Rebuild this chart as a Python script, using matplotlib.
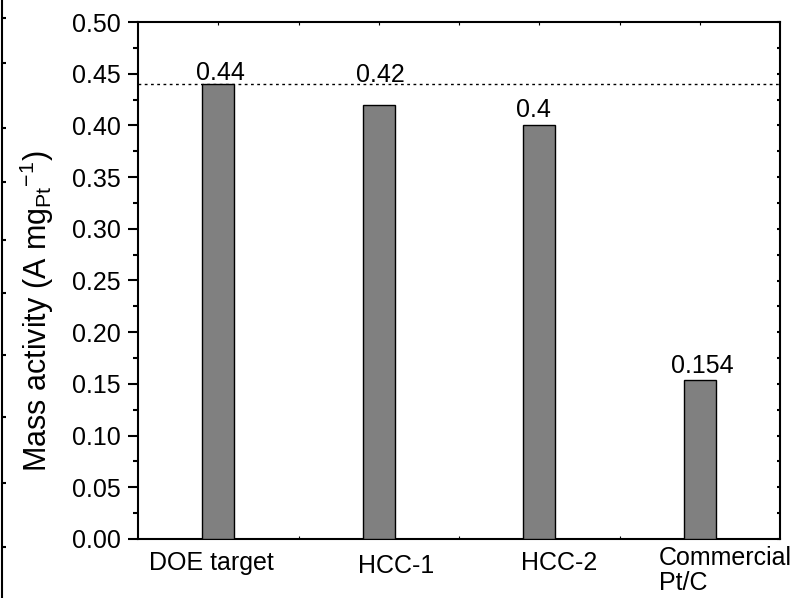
import matplotlib
matplotlib.use("Agg")
import matplotlib.pyplot as plt
from matplotlib.ticker import MultipleLocator, FixedLocator, FormatStrFormatter

plt.rcParams['font.family'] = ['Liberation Sans', 'DejaVu Sans']
plt.rcParams['mathtext.fontset'] = 'custom'
plt.rcParams['mathtext.rm'] = 'Liberation Sans'
plt.rcParams['mathtext.it'] = 'Liberation Sans'

categories = ["DOE target", "HCC-1", "HCC-2", "Commercial\nPt/C"]
values = [0.44, 0.42, 0.40, 0.154]
value_labels = ["0.44", "0.42", "0.4", "0.154"]
doe_target = 0.44

fig = plt.figure(figsize=(7.94, 5.98), dpi=100)
ax = fig.add_axes([138/794, 1 - 539/598, (780 - 138)/794, (539 - 22)/598])

x = [1, 2, 3, 4]
ax.bar(x, values, width=0.2, color='#808080', edgecolor='black', linewidth=1.0, zorder=3)
ax.axhline(doe_target, color='black', linestyle=(0, (2, 2.5)), linewidth=1.0, zorder=2)

# value labels (offsets in points, baseline anchored)
lab_dx = [1.5, 1.5, -4.3, 1.5]
lab_dy = [2.9, 16.5, 5.8, 5.0]
for xi, v, t, dx, dy in zip(x, values, value_labels, lab_dx, lab_dy):
    ax.annotate(t, (xi, v), xytext=(dx, dy), textcoords='offset points',
                ha='center', va='baseline', fontsize=18, zorder=4)

ax.set_xlim(0.5, 4.5)
ax.set_ylim(0, 0.5)
ax.yaxis.set_major_locator(MultipleLocator(0.05))
ax.yaxis.set_minor_locator(MultipleLocator(0.025))
ax.yaxis.set_major_formatter(FormatStrFormatter('%.2f'))
ax.tick_params(axis='y', which='major', direction='out', length=7, width=1.5, labelsize=18, pad=5.5)
ax.tick_params(axis='y', which='minor', direction='out', length=3.6, width=1.5)

# right-hand inward ticks
axr = ax.twinx()
axr.set_ylim(0, 0.5)
axr.yaxis.set_major_locator(MultipleLocator(0.025))
axr.yaxis.set_minor_locator(matplotlib.ticker.NullLocator())
axr.tick_params(axis='y', which='major', direction='in', length=2.5, width=1.5, labelright=False)
for s in axr.spines.values():
    s.set_visible(False)

ax.xaxis.set_major_locator(FixedLocator(x))
ax.xaxis.set_minor_locator(FixedLocator([1.5, 2.5, 3.5]))
ax.set_xticklabels([])
ax.tick_params(axis='x', which='both', direction='in', length=2, width=0.8, top=True)

for s in ax.spines.values():
    s.set_linewidth(1.5)

# category labels placed manually (baseline, axes fraction)
cat_dx = [-0.04, 0.11, 0.125, -0.255]
cat_ha = ['center', 'center', 'center', 'left']
cat_y = [-0.060, -0.066, -0.060, -0.0503]
line_step = 0.048
trans = ax.get_xaxis_transform()
for xi, c, dx, ha, yy in zip(x, categories, cat_dx, cat_ha, cat_y):
    for k, line in enumerate(c.split('\n')):
        ax.text(xi + dx, yy - k * line_step, line, transform=trans, ha=ha,
                va='baseline', fontsize=18)

ax.set_ylabel(r'Mass activity (A mg$_{\mathrm{Pt}}$$^{\mathrm{-1}}$)', fontsize=22)
ax.yaxis.set_label_coords(-0.128, 0.44)

# partial neighbouring axis line at the far left edge
edge = fig.add_axes([2/794, 0, 0.0001, 1])
edge.set_xticks([])
edge.set_ylim(598, 0)
edge.yaxis.set_major_locator(FixedLocator([18, 63, 128, 182, 240, 293, 355, 417, 483, 547]))
edge.tick_params(axis='y', direction='in', length=3, width=1.5, labelleft=False, right=False)
for k, s in edge.spines.items():
    s.set_visible(k == 'left')
    s.set_linewidth(1.5)

fig.savefig('out.png', dpi=100)
